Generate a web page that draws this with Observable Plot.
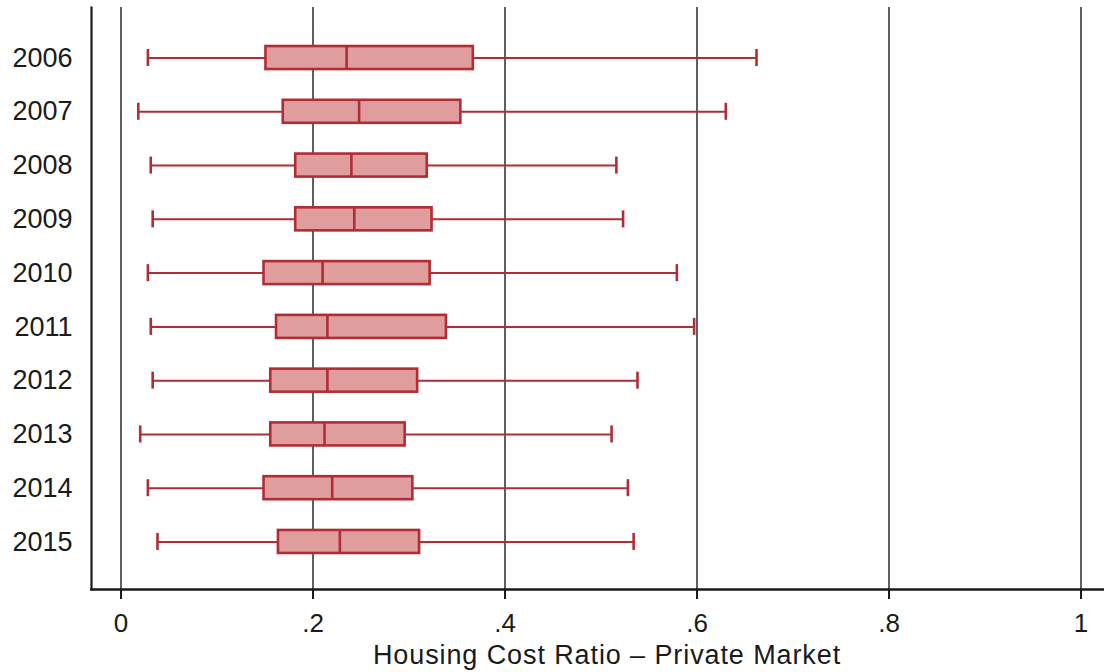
<!DOCTYPE html>
<html>
<head>
<meta charset="utf-8">
<script src="https://cdn.jsdelivr.net/npm/d3@7"></script>
<script src="https://cdn.jsdelivr.net/npm/@observablehq/plot@0.6"></script>
<style>
  html, body { margin: 0; padding: 0; background: #fff; }
  #chart svg { display: block; }
</style>
</head>
<body>
<div id="chart"></div>
<script>
// Housing cost ratio (private market), box-plot summaries by year
const years       = ["2006", "2007", "2008", "2009", "2010", "2011", "2012", "2013", "2014", "2015"];
const whiskerLow  = [0.028, 0.018, 0.031, 0.033, 0.028, 0.031, 0.033, 0.020, 0.028, 0.038];
const quartile1   = [0.151, 0.169, 0.182, 0.182, 0.149, 0.162, 0.156, 0.156, 0.149, 0.164];
const medians     = [0.235, 0.248, 0.240, 0.243, 0.210, 0.215, 0.215, 0.212, 0.220, 0.228];
const quartile3   = [0.367, 0.354, 0.319, 0.324, 0.322, 0.339, 0.309, 0.296, 0.304, 0.311];
const whiskerHigh = [0.662, 0.630, 0.516, 0.523, 0.579, 0.597, 0.538, 0.511, 0.528, 0.534];

const xTicks      = [0, 0.2, 0.4, 0.6, 0.8, 1];
const xTickLabels = ["0", ".2", ".4", ".6", ".8", "1"];
const xTitle      = "Housing Cost Ratio \u2013 Private Market";

const rows = years.map((year, i) => ({
  year,
  lo: whiskerLow[i],
  q1: quartile1[i],
  med: medians[i],
  q3: quartile3[i],
  hi: whiskerHigh[i]
}));

const boxStroke = "#b22c36";
const boxFill = "#e09d9d";
const ink = "#1a1a1a";
const font = "'Liberation Sans', Arial, Helvetica, sans-serif";

const chart = Plot.plot({
  width: 1104,
  height: 672,
  marginLeft: 91,
  marginRight: 0,
  marginTop: 7,
  marginBottom: 83,
  style: { fontFamily: font, fontSize: "26px", color: ink, background: "#fff" },
  x: { domain: [0, 1], range: [120.5, 1080.5] },
  y: { type: "band", domain: years, paddingInner: 0.572, paddingOuter: 0.67, insetTop: 3, round: false },
  marks: [
    // vertical grid lines at each labelled tick
    Plot.ruleX(xTicks, { stroke: ink, strokeWidth: 1.4 }),
    // axis lines
    Plot.frame({ anchor: "left", stroke: ink, strokeWidth: 2.2 }),
    Plot.frame({ anchor: "bottom", stroke: ink, strokeWidth: 2.6 }),
    // whiskers
    Plot.ruleY(rows, { y: "year", x1: "lo", x2: "hi", stroke: boxStroke, strokeWidth: 2 }),
    Plot.tickX(rows, { x: "lo", y: "year", stroke: boxStroke, strokeWidth: 2.6, insetTop: 3, insetBottom: 3 }),
    Plot.tickX(rows, { x: "hi", y: "year", stroke: boxStroke, strokeWidth: 2.6, insetTop: 3, insetBottom: 3 }),
    // interquartile boxes and medians
    Plot.barX(rows, { y: "year", x1: "q1", x2: "q3", fill: boxFill, stroke: boxStroke, strokeWidth: 2.6 }),
    Plot.tickX(rows, { x: "med", y: "year", stroke: boxStroke, strokeWidth: 2.6 }),
    // axes
    Plot.axisX({
      ticks: xTicks,
      tickFormat: (d) => xTickLabels[xTicks.indexOf(d)],
      tickSize: 10,
      tickPadding: 14,
      strokeWidth: 2,
      stroke: ink,
      fill: ink,
      fontSize: 26,
      label: null
    }),
    Plot.axisY({
      tickSize: 0,
      tickPadding: 19,
      fill: ink,
      fontSize: 27,
      label: null
    }),
    Plot.text([xTitle], {
      frameAnchor: "bottom",
      lineAnchor: "bottom",
      dy: 74,
      dx: 9,
      fontSize: 27,
      fill: ink
    })
  ]
});

// slightly open letter spacing on the axis title
d3.select(chart).selectAll("text")
  .filter(function () { return this.textContent === xTitle; })
  .style("letter-spacing", "0.9px");

document.getElementById("chart").appendChild(chart);
</script>
</body>
</html>
